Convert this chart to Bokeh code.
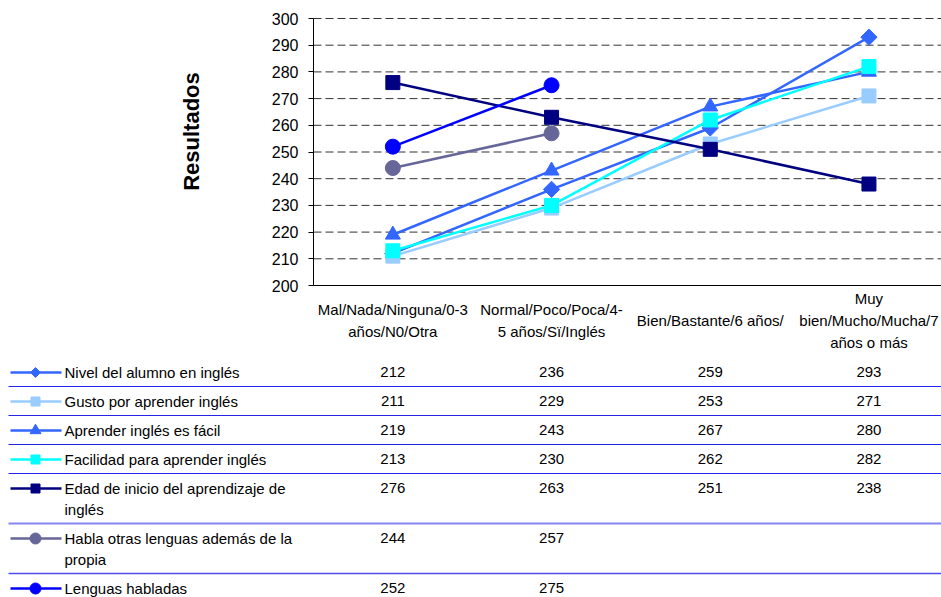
import math
from bokeh.plotting import figure
from bokeh.models import Range1d, FixedTicker, LinearAxis
from bokeh.embed import file_html
from bokeh.resources import INLINE
from bokeh.core.properties import value

# ---------------- data ----------------
categories = [
    "Mal/Nada/Ninguna/0-3\naños/N0/Otra",
    "Normal/Poco/Poca/4-\n5 años/Sï/Inglés",
    "Bien/Bastante/6 años/",
    "Muy\nbien/Mucho/Mucha/7\naños o más",
]
series_names = [
    "Nivel del alumno en inglés",
    "Gusto por aprender inglés",
    "Aprender inglés es fácil",
    "Facilidad para aprender inglés",
    "Edad de inicio del aprendizaje de\ninglés",
    "Habla otras lenguas además de la\npropia",
    "Lenguas habladas",
]
nivel = [212, 236, 259, 293]
gusto = [211, 229, 253, 271]
aprender = [219, 243, 267, 280]
facilidad = [213, 230, 262, 282]
edad = [276, 263, 251, 238]
habla = [244, 257, None, None]
lenguas = [252, 275, None, None]
y_ticks = [200, 210, 220, 230, 240, 250, 260, 270, 280, 290, 300]
y_title = "Resultados"

series_values = [nivel, gusto, aprender, facilidad, edad, habla, lenguas]

# ---------------- styles / layout ----------------
FONT = "Liberation Sans"
colors = ["#3366ff", "#99ccff", "#3366ff", "#00ffff", "#000080", "#666699", "#0000ff"]
# (marker, chart size, legend size, angle)
marker_styles = [
    ("square", 11.5, 7, math.pi / 4),
    ("square", 14, 9, 0),
    ("triangle", 15, 11, 0),
    ("square", 14, 9, 0),
    ("square", 14, 9, 0),
    ("circle", 15, 11, 0),
    ("circle", 15, 11, 0),
]
sep_colors = ["#2424e6", "#2424e6", "#2424e6", "#2424e6", "#8585f2", "#4d4df0"]
sep_widths = [1.2, 1.2, 1.2, 1.2, 2, 1.5]

W, H = 941, 597
CAT_PX = 158.7          # pixels per category
FRAME_LEFT = 313        # canvas x of the value axis
VAL_PX = 2.67           # pixels per value unit
BASE_Y = 285            # canvas y of value 200


def px_x(cx):
    return (cx - FRAME_LEFT) / CAT_PX - 0.5


def py(cy):
    return y_ticks[0] + (BASE_Y - cy) / VAL_PX


X0, X1 = -0.5, px_x(W)

p = figure(width=W, height=H, x_range=Range1d(px_x(0), X1), y_range=Range1d(py(H), py(0)),
           x_axis_type=None, y_axis_type=None, output_backend="svg", toolbar_location=None,
           min_border=0)
p.outline_line_color = None
p.background_fill_color = "white"
p.border_fill_color = "white"

# gridlines (dashed) over the chart area only
gy = y_ticks[1:]
p.segment(x0=[X0] * len(gy), y0=gy, x1=[X1] * len(gy), y1=gy,
          line_color="#333333", line_width=1, line_dash="8 4")

# value axis
yaxis = LinearAxis(ticker=FixedTicker(ticks=y_ticks), bounds=(y_ticks[0], y_ticks[-1]),
                   fixed_location=X0)
yaxis.axis_line_color = "black"
yaxis.major_tick_line_color = "black"
yaxis.major_tick_in = 0
yaxis.major_tick_out = 5
yaxis.minor_tick_line_color = None
yaxis.major_label_standoff = 10
yaxis.major_label_text_font = FONT
yaxis.major_label_text_font_size = "16px"
yaxis.major_label_text_color = "black"
p.add_layout(yaxis, "left")

# value axis title (placed like the original, above the axis centre)
p.text(x=[px_x(191)], y=[py(131)], text=[y_title], angle=math.pi / 2,
       text_align="center", text_baseline="middle", text_font=value(FONT),
       text_font_size="22px", text_font_style="bold", text_color="black")

# category axis baseline
xaxis = LinearAxis(ticker=FixedTicker(ticks=[]), bounds=(X0, X1), fixed_location=y_ticks[0])
xaxis.axis_line_color = "black"
xaxis.major_tick_in = 0
xaxis.major_tick_out = 0
xaxis.minor_tick_line_color = None
xaxis.major_label_text_font_size = "0px"
xaxis.major_label_standoff = 0
p.add_layout(xaxis, "below")

# series
for vals, col, (mk, sz, lsz, ang) in zip(series_values, colors, marker_styles):
    xs = [i for i, v in enumerate(vals) if v is not None]
    ys = [v for v in vals if v is not None]
    p.line(xs, ys, line_color=col, line_width=2.5)
    p.scatter(xs, ys, marker=mk, size=sz, angle=ang, fill_color=col, line_color=col)

# category labels
cx, cy, ct = [], [], []
for i, cat in enumerate(categories):
    lines = cat.split("\n")
    n = len(lines)
    for j, ln in enumerate(lines):
        cx.append(i)
        cy.append(py(320 + (j - (n - 1) / 2) * 22))
        ct.append(ln)
p.text(x=cx, y=cy, text=ct, text_align="center", text_baseline="middle",
       text_font=value(FONT), text_font_size="15px", text_color="black")

# data table with legend keys
row_top = 357
for k, (name, vals, col, (mk, sz, lsz, ang)) in enumerate(zip(series_names, series_values, colors, marker_styles)):
    lines = name.split("\n")
    ty = row_top + 15
    p.segment(x0=[px_x(10)], y0=[py(ty)], x1=[px_x(61)], y1=[py(ty)], line_color=col, line_width=2.5)
    p.scatter(x=[px_x(35)], y=[py(ty)], marker=mk, size=lsz, angle=ang, fill_color=col, line_color=col)
    p.text(x=[px_x(64)] * len(lines), y=[py(ty + 21 * j) for j in range(len(lines))], text=lines,
           text_align="left", text_baseline="middle", text_font=value(FONT),
           text_font_size="15px", text_color="black")
    vx = [i for i, v in enumerate(vals) if v is not None]
    vt = [str(v) for v in vals if v is not None]
    p.text(x=vx, y=[py(ty - 1)] * len(vx), text=vt, text_align="center", text_baseline="middle",
           text_font=value(FONT), text_font_size="15px", text_color="black")
    row_bottom = row_top + 8 + 21 * len(lines)
    if k < len(series_names) - 1:
        p.segment(x0=[px_x(8)], y0=[py(row_bottom)], x1=[X1], y1=[py(row_bottom)],
                  line_color=sep_colors[k], line_width=sep_widths[k])
    row_top = row_bottom

with open("out.html", "w") as f:
    f.write(file_html(p, INLINE))
